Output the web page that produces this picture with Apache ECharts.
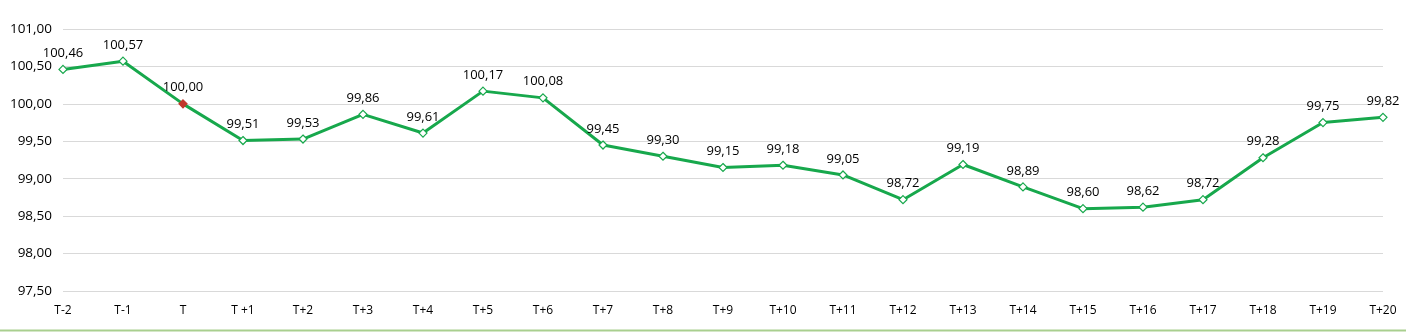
<!DOCTYPE html>
<html>
<head>
<meta charset="utf-8">
<script src="https://cdn.jsdelivr.net/npm/echarts@6/dist/echarts.min.js"></script>
<style>
  html, body { margin: 0; padding: 0; background: #fff; }
  #chart { width: 1406px; height: 332px; }
</style>
</head>
<body>
<div id="chart"></div>
<script>
// Event window around day T
const categories = ['T-2', 'T-1', 'T', 'T +1', 'T+2', 'T+3', 'T+4', 'T+5', 'T+6', 'T+7', 'T+8',
  'T+9', 'T+10', 'T+11', 'T+12', 'T+13', 'T+14', 'T+15', 'T+16', 'T+17', 'T+18', 'T+19', 'T+20'];
const indexValues = [100.46, 100.57, 100.00, 99.51, 99.53, 99.86, 99.61, 100.17, 100.08, 99.45, 99.30,
  99.15, 99.18, 99.05, 98.72, 99.19, 98.89, 98.60, 98.62, 98.72, 99.28, 99.75, 99.82];
const eventCategory = 'T';

const fmt = v => v.toFixed(2).replace('.', ',');
const green = '#17a84c';
const font = '"Open Sans", "Noto Sans", sans-serif';

const seriesData = indexValues.map((v, i) => categories[i] === eventCategory
  ? { value: v, symbol: 'diamond', itemStyle: { color: '#c0392b', borderColor: '#c0392b' } }
  : v);

const chart = echarts.init(document.getElementById('chart'), null, { renderer: 'canvas' });
chart.setOption({
  animation: false,
  backgroundColor: '#fff',
  grid: { left: 63, right: 23, top: 29, bottom: 41, containLabel: false },
  xAxis: {
    type: 'category',
    data: categories,
    boundaryGap: false,
    axisLine: { show: false },
    axisTick: { show: false },
    axisLabel: { color: '#000', fontFamily: font, fontSize: 12, margin: 14 }
  },
  yAxis: {
    type: 'value',
    min: 97.5,
    max: 101,
    interval: 0.5,
    axisLine: { show: false },
    axisTick: { show: false },
    splitLine: { lineStyle: { color: '#d9d9d9', width: 1 } },
    axisLabel: { color: '#000', fontFamily: font, fontSize: 13.5, margin: 11, formatter: fmt }
  },
  series: [{
    type: 'line',
    data: seriesData,
    symbol: 'diamond',
    symbolSize: 8,
    showAllSymbol: true,
    lineStyle: { color: green, width: 3 },
    itemStyle: { color: '#fff', borderColor: green, borderWidth: 1.2 },
    label: {
      show: true,
      position: 'top',
      distance: 5,
      color: '#000',
      fontFamily: font,
      fontSize: 13,
      formatter: p => fmt(p.value)
    },
    z: 3
  }],
  graphic: [{
    type: 'line',
    shape: { x1: 0, y1: 330.5, x2: 1406, y2: 330.5 },
    style: { stroke: '#a9cf8f', lineWidth: 2 }
  }]
});
</script>
</body>
</html>
